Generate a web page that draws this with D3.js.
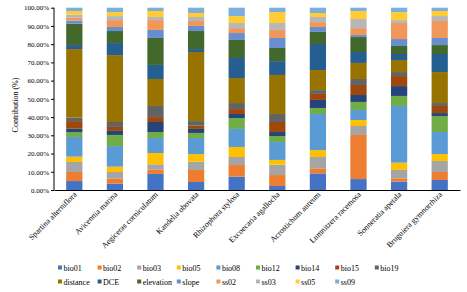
<!DOCTYPE html>
<html><head><meta charset="utf-8">
<script src="https://cdn.jsdelivr.net/npm/d3@7"></script>
<style>body{margin:0;background:#fff}svg{display:block}text{font-family:"Liberation Serif","Times New Roman",serif;fill:#000}</style>
</head><body><svg id="c" width="467" height="292"></svg>
<script>
const categories = ["Spartina alterniflora","Avicennia marina","Aegiceras corniculatum","Kandelia obovata","Rhizophora stylosa","Excoecaria agallocha","Acrostichum aureum","Lumnitzera racemosa","Sonneratia apetala","Bruguiera gymnorrhiza"];
const seriesNames = ["bio01","bio02","bio03","bio05","bio08","bio12","bio14","bio15","bio19","distance","DCE","elevation","slope","ss02","ss03","ss05","ss09"];
const colors = ["#4472C4","#ED7D31","#A5A5A5","#FFC000","#5B9BD5","#70AD47","#264478","#9E480E","#636363","#997300","#255E91","#43682B","#698ED0","#F1975A","#B7B7B7","#FFCD33","#7CAFDD"];
const bio01 = [4.9,3.5,8.8,4.4,7.3,2.2,9.1,6.0,4.6,5.5];
const bio02 = [5.0,2.7,2.5,6.6,6.4,6.0,2.8,24.2,1.8,4.4];
const bio03 = [5.5,3.7,2.8,4.5,4.4,5.7,6.2,4.9,4.6,6.0];
const bio05 = [2.9,2.9,6.2,4.2,5.5,2.6,3.8,3.3,4.0,3.8];
const bio08 = [10.8,11.3,8.2,8.8,9.9,9.8,19.8,5.5,31.1,12.1];
const bio12 = [2.7,6.1,3.3,2.8,6.0,3.3,3.3,4.4,5.5,8.8];
const bio14 = [1.8,2.2,5.5,2.2,2.2,2.2,4.4,3.8,5.4,1.6];
const bio15 = [4.2,2.2,2.7,1.8,2.7,5.5,3.3,5.5,5.5,3.9];
const bio19 = [1.9,2.7,6.1,2.5,3.3,4.4,2.1,3.3,2.2,1.6];
const distance = [37.6,36.7,14.8,37.9,13.7,21.4,11.0,8.8,6.6,17.0];
const DCE = [2.2,6.6,7.7,1.6,11.0,7.6,14.3,6.0,3.3,9.9];
const elevation = [11.7,6.6,14.8,9.9,9.9,7.2,6.6,8.2,4.4,4.9];
const slope = [1.7,2.2,4.4,2.8,3.8,5.5,2.7,1.1,3.8,3.9];
const ss02 = [1.6,3.8,5.4,2.7,2.7,4.4,2.7,3.8,8.8,9.3];
const ss03 = [1.7,2.2,1.7,2.2,2.8,3.8,2.8,5.0,1.6,2.7];
const ss05 = [2.0,2.2,3.3,2.2,3.8,6.0,2.2,4.4,4.4,2.8];
const ss09 = [1.8,2.4,1.8,2.9,4.6,2.4,2.9,1.8,2.4,1.8];
const yTicks = [0,10,20,30,40,50,60,70,80,90,100];

const seriesValues = [bio01,bio02,bio03,bio05,bio08,bio12,bio14,bio15,bio19,distance,DCE,elevation,slope,ss02,ss03,ss05,ss09];
const table = categories.map((c,i)=>{const r={cat:c};seriesNames.forEach((s,j)=>r[s]=seriesValues[j][i]);return r;});
const stack = d3.stack().keys(seriesNames).offset(d3.stackOffsetExpand)(table);

const svg = d3.select("#c");
const L=54, R=460, T=7.7, B=190;
const x = d3.scaleBand().domain(categories).range([L,R]).paddingInner(0.6).paddingOuter(0.3);
const y = d3.scaleLinear().domain([0,100]).range([B,T]);

svg.append("g").selectAll("g").data(stack).join("g")
  .attr("fill",(d,i)=>colors[i])
  .selectAll("rect").data(d=>d).join("rect")
  .attr("x",d=>x(d.data.cat)).attr("width",x.bandwidth())
  .attr("y",d=>y(d[1]*100)).attr("height",d=>y(d[0]*100)-y(d[1]*100));

const ya = svg.append("g").attr("transform",`translate(${L},0)`)
  .call(d3.axisLeft(y).tickValues(yTicks).tickSize(3).tickFormat(d=>d.toFixed(2)+"%"));
ya.select(".domain").attr("stroke","#000").attr("d",`M0,${B}V${T}`);
ya.selectAll("text").attr("font-size",7).attr("x",-5).style("font-family","Liberation Serif");

const xa = svg.append("g").attr("transform",`translate(0,${B})`)
  .call(d3.axisBottom(x).tickSize(0));
xa.select(".domain").attr("stroke","#000").attr("stroke-width",1.2);
xa.selectAll("text").attr("font-size",8).style("font-family","Liberation Serif")
  .attr("text-anchor","end").attr("dy",0).attr("y",0)
  .attr("transform","translate(3,5) rotate(-45)");

svg.append("text").attr("transform","translate(18,105) rotate(-90)")
  .attr("text-anchor","middle").attr("font-size",8).text("Contribution (%)");

const leg = svg.append("g");
seriesNames.forEach((s,i)=>{
  const row = i<9?0:1, col = i<9?i:i-9;
  const gx = 58 + col*39.6, gy = row===0?268:282;
  leg.append("rect").attr("x",gx).attr("y",gy-2.5).attr("width",4).attr("height",4).attr("fill",colors[i]);
  leg.append("text").attr("x",gx+5.5).attr("y",gy+2.5).attr("font-size",8).text(s);
});
</script></body></html>
